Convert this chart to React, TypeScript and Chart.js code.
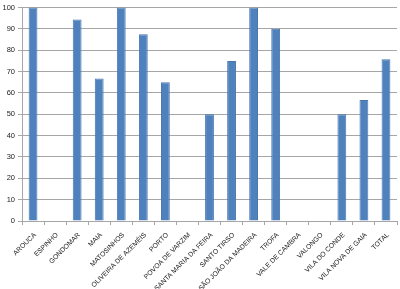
import React, { useEffect, useRef } from "react";
import { Chart, registerables } from "chart.js";

Chart.register(...registerables);

const categories = [
  "AROUCA", "ESPINHO", "GONDOMAR", "MAIA", "MATOSINHOS", "OLIVEIRA DE AZEMÉIS",
  "PORTO", "POVOA DE VARZIM", "SANTA MARIA DA FEIRA", "SANTO TIRSO",
  "SÃO JOÃO DA MADEIRA", "TROFA", "VALE DE CAMBRA", "VALONGO", "VILA DO CONDE",
  "VILA NOVA DE GAIA", "TOTAL",
];
const values = [100, 0, 94.4, 66.7, 100, 87.5, 65, 0, 50, 75, 100, 90, 0, 0, 50, 56.7, 75.8];
const yMin = 0;
const yMax = 100;
const yStep = 10;

export default function App() {
  const ref = useRef<HTMLCanvasElement | null>(null);
  useEffect(() => {
    if (!ref.current) return;
    const yFont = { family: "'Liberation Sans', Arial, sans-serif", size: 7.5 };
    const xFont = { family: "'Liberation Sans', Arial, sans-serif", size: 6.8 };
    const chart = new Chart(ref.current, {
      type: "bar",
      data: {
        labels: categories,
        datasets: [
          {
            data: values,
            backgroundColor: "#4F81BD",
            borderColor: "#4876B0",
            borderWidth: 1,
            barPercentage: 0.8,
            categoryPercentage: 0.5,
          },
        ],
      },
      options: {
        animation: false,
        responsive: false,
        maintainAspectRatio: false,
        layout: { padding: { top: 6, right: 3, left: 0, bottom: 0 } },
        plugins: { legend: { display: false }, tooltip: { enabled: false } },
        scales: {
          x: {
            offset: true,
            grid: { display: true, drawOnChartArea: false, offset: true, tickLength: 4, color: "#A6A6A6" },
            border: { color: "#A6A6A6" },
            ticks: { font: xFont, color: "#222", minRotation: 45, maxRotation: 45, autoSkip: false, padding: 6, labelOffset: 2 },
            afterFit: (s: any) => { s.height = 68; },
          },
          y: {
            min: yMin,
            max: yMax,
            ticks: { stepSize: yStep, font: yFont, color: "#222", padding: 3 },
            grid: { color: "#A6A6A6", tickLength: 4 },
            border: { color: "#A6A6A6" },
            afterFit: (s: any) => { s.width = 22; },
          },
        },
      },
    });
    return () => chart.destroy();
  }, []);
  return (
    <div style={{ position: "fixed", left: 0, top: 0, width: 400, height: 289, background: "#fff" }}>
      <canvas ref={ref} width={400} height={289} style={{ width: 400, height: 289, display: "block" }} />
    </div>
  );
}
